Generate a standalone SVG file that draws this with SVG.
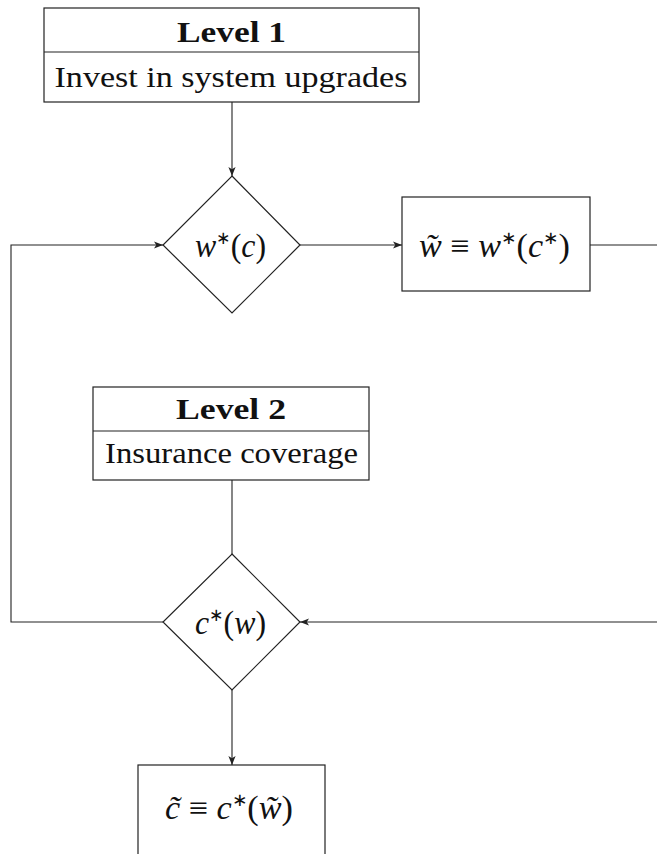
<svg xmlns="http://www.w3.org/2000/svg" width="657" height="854" viewBox="0 0 657 854">
<style>
.box{fill:#fff;stroke:#222;stroke-width:1.2}
.ln{fill:none;stroke:#222;stroke-width:1.1}
.t{font-family:"Liberation Serif","Times New Roman",serif;font-size:30px;fill:#111;text-anchor:middle}
.mt{font-size:33px}
.b{font-weight:bold}
.m{font-style:italic}
.s{font-size:18px}
</style>
<defs>
<marker id="ah" viewBox="0 0 10 10" refX="10" refY="5" markerWidth="9" markerHeight="9" markerUnits="userSpaceOnUse" orient="auto">
<path d="M0,1 L10,5 L0,9 L2.5,5 Z" fill="#222"/>
</marker>
</defs>
<rect width="657" height="854" fill="#fff"/>
<g id="connectors">
<path class="ln" d="M232,102 V176" marker-end="url(#ah)"/>
<path class="ln" d="M300,245 H402" marker-end="url(#ah)"/>
<path class="ln" d="M590,245 H657"/>
<path class="ln" d="M163,622 H11 V245 H163" marker-end="url(#ah)"/>
<path class="ln" d="M657,622 H300" marker-end="url(#ah)"/>
<path class="ln" d="M232,480 V554"/>
<path class="ln" d="M232,690 V765" marker-end="url(#ah)"/>
</g>
<g id="level1">
<rect class="box" x="44" y="8" width="375" height="94"/>
<line class="box" x1="44" y1="52" x2="419" y2="52"/>
<text class="t b" x="231.5" y="42" textLength="109" lengthAdjust="spacingAndGlyphs">Level 1</text>
<text class="t" x="231" y="87" textLength="353" lengthAdjust="spacingAndGlyphs">Invest in system upgrades</text>
</g>
<g id="diamond1">
<path class="box" d="M232,176 L300,245 L232,313 L163,245 Z"/>
<text class="t mt" x="230.5" y="257" textLength="71" lengthAdjust="spacingAndGlyphs"><tspan class="m">w</tspan><tspan class="s" dy="-13">∗</tspan><tspan dy="13">(</tspan><tspan class="m">c</tspan>)</text>
</g>
<g id="wtilde">
<rect class="box" x="402" y="197" width="188" height="94"/>
<text class="t mt" x="494.5" y="257" textLength="151" lengthAdjust="spacingAndGlyphs"><tspan class="m">w̃</tspan> ≡ <tspan class="m">w</tspan><tspan class="s" dy="-13">∗</tspan><tspan dy="13">(</tspan><tspan class="m">c</tspan><tspan class="s" dy="-13">∗</tspan><tspan dy="13">)</tspan></text>
</g>
<g id="level2">
<rect class="box" x="93" y="387" width="276" height="93"/>
<line class="box" x1="93" y1="431" x2="369" y2="431"/>
<text class="t b" x="231" y="419" textLength="110" lengthAdjust="spacingAndGlyphs">Level 2</text>
<text class="t" x="231.5" y="463" textLength="253" lengthAdjust="spacingAndGlyphs">Insurance coverage</text>
</g>
<g id="diamond2">
<path class="box" d="M232,554 L300,622 L232,690 L163,622 Z"/>
<text class="t mt" x="230.5" y="634" textLength="71" lengthAdjust="spacingAndGlyphs"><tspan class="m">c</tspan><tspan class="s" dy="-13">∗</tspan><tspan dy="13">(</tspan><tspan class="m">w</tspan>)</text>
</g>
<g id="ctilde">
<rect class="box" x="138" y="765" width="187" height="100"/>
<text class="t mt" x="229" y="819" textLength="128" lengthAdjust="spacingAndGlyphs"><tspan class="m">c̃</tspan> ≡ <tspan class="m">c</tspan><tspan class="s" dy="-13">∗</tspan><tspan dy="13">(</tspan><tspan class="m">w̃</tspan>)</text>
</g>
</svg>
